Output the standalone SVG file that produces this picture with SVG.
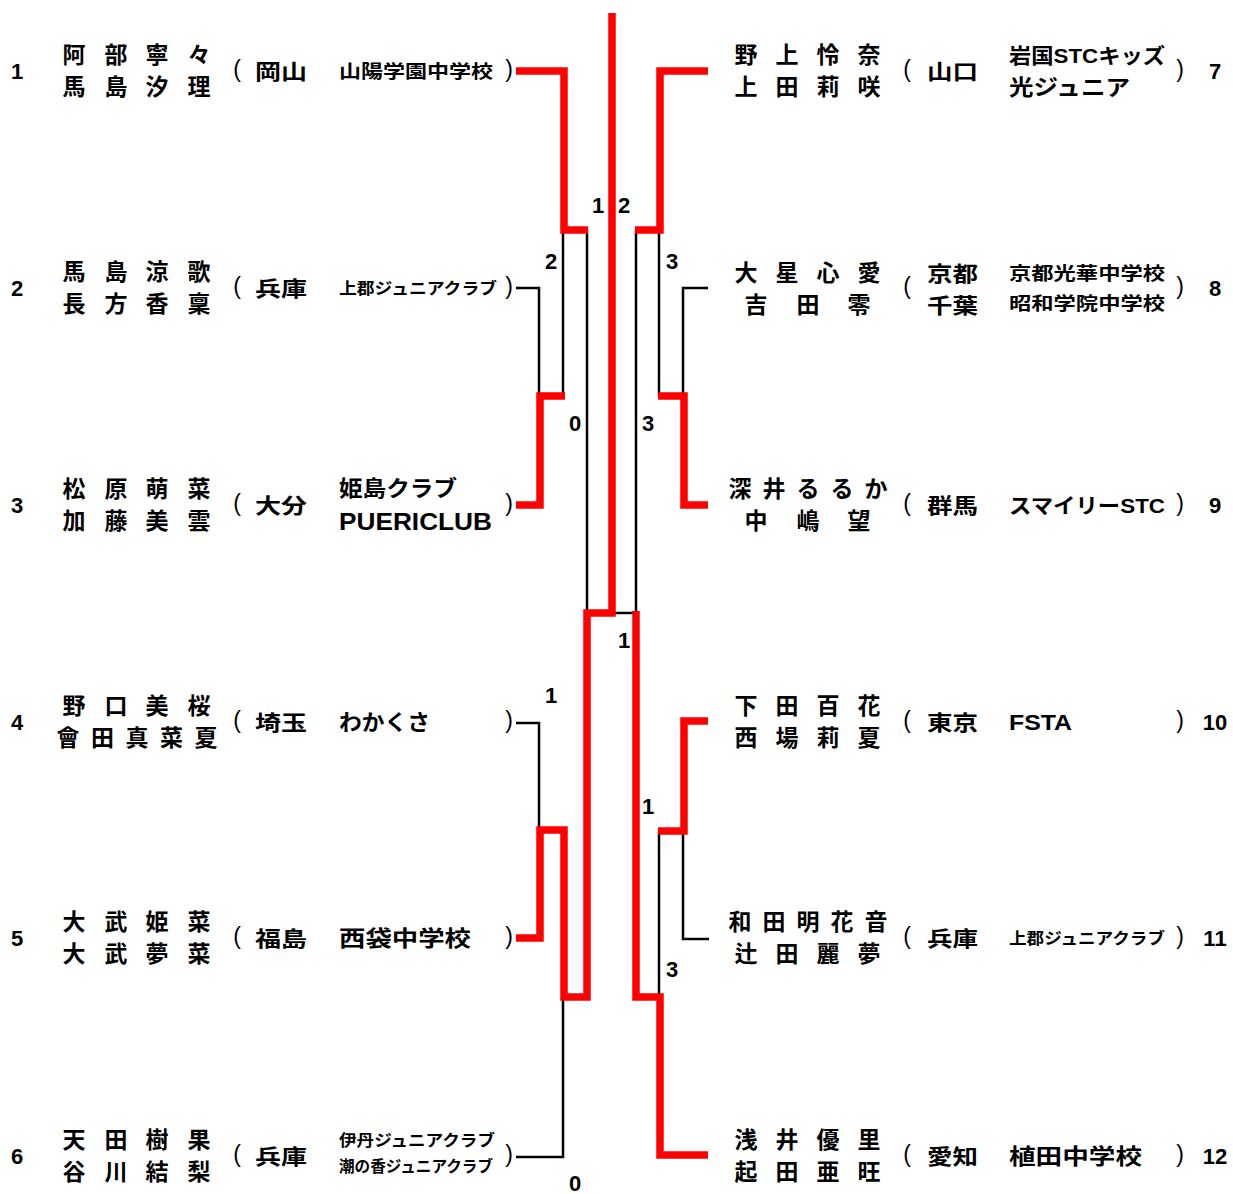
<svg xmlns="http://www.w3.org/2000/svg" width="1233" height="1194" viewBox="0 0 1233 1194">
<style>
text{fill:#000}
.num{font-family:"Liberation Sans",Arial,sans-serif;font-weight:bold;font-size:22px;text-anchor:middle}
.nm{font-family:"Noto Sans CJK JP",sans-serif;font-weight:bold;font-size:23px;text-anchor:middle}
.par{font-family:"Liberation Sans",Arial,sans-serif;font-size:23px;text-anchor:middle}
.pf{font-family:"Noto Sans CJK JP",sans-serif;font-weight:bold;font-size:21px}
.tm{font-family:"Liberation Sans","Noto Sans CJK JP",sans-serif;font-weight:bold}
.r{fill:none;stroke:#ff0000;stroke-width:7.5;stroke-linejoin:miter;stroke-linecap:butt}
.k{fill:none;stroke:#000;stroke-width:2.5;stroke-linejoin:miter}
</style>
<rect width="1233" height="1194" fill="#fff"/>

<g id="connectors">
<path class="k" d="M516,288 H539 V396"/>
<path class="k" d="M563,230 V396"/>
<path class="k" d="M587,230 V613"/>
<path class="k" d="M636,230 V613"/>
<path class="k" d="M659,230 V396"/>
<path class="k" d="M708,288 H683 V396"/>
<path class="k" d="M612,613 H636"/>
<path class="k" d="M516,723 H539 V830"/>
<path class="k" d="M516,1157 H563 V997"/>
<path class="k" d="M659,831 V997"/>
<path class="k" d="M709,939 H683 V831"/>
<path class="r" d="M516,71 H564 V230 H588"/>
<path class="r" d="M516,505 H540 V396 H565"/>
<path class="r" d="M612,13 V613 H587 V997 H564 V830 H540 V938 H516"/>
<path class="r" d="M708,71 H660 V230 H635"/>
<path class="r" d="M708,505 H684 V396 H658"/>
<path class="r" d="M708,721 H684 V831 H658"/>
<path class="r" d="M708,1155 H660 V997 H636 V611"/>
</g>

<g id="scores" class="num">
<text x="598" y="213">1</text>
<text x="624" y="213">2</text>
<text x="551" y="269">2</text>
<text x="672" y="269">3</text>
<text x="575" y="431">0</text>
<text x="648" y="431">3</text>
<text x="624" y="648">1</text>
<text x="551" y="703">1</text>
<text x="648" y="814">1</text>
<text x="672" y="977">3</text>
<text x="575" y="1191">0</text>
</g>

<g id="entry-1">
<text class="num" x="17" y="79">1</text>
<text class="nm" x="74 116 157 199" y="63">阿部寧々</text>
<text class="nm" x="74 116 157 199" y="95">馬島汐理</text>
<text class="par" x="237" y="77">(</text>
<text class="pf" x="255" y="79" textLength="52" lengthAdjust="spacingAndGlyphs">岡山</text>
<text class="tm" x="339" y="78" font-size="18" textLength="154" lengthAdjust="spacingAndGlyphs">山陽学園中学校</text>
<text class="par" x="509" y="77">)</text>
</g>

<g id="entry-2">
<text class="num" x="17" y="296">2</text>
<text class="nm" x="74 116 157 199" y="280">馬島涼歌</text>
<text class="nm" x="74 116 157 199" y="312">長方香稟</text>
<text class="par" x="237" y="294">(</text>
<text class="pf" x="255" y="296" textLength="52" lengthAdjust="spacingAndGlyphs">兵庫</text>
<text class="tm" x="339" y="294" font-size="16" textLength="158" lengthAdjust="spacingAndGlyphs">上郡ジュニアクラブ</text>
<text class="par" x="509" y="294">)</text>
</g>

<g id="entry-3">
<text class="num" x="17" y="513">3</text>
<text class="nm" x="74 116 157 199" y="497">松原萌菜</text>
<text class="nm" x="74 116 157 199" y="529">加藤美雲</text>
<text class="par" x="237" y="511">(</text>
<text class="pf" x="255" y="513" textLength="52" lengthAdjust="spacingAndGlyphs">大分</text>
<text class="tm" x="339" y="496" font-size="22" textLength="118" lengthAdjust="spacingAndGlyphs">姫島クラブ</text>
<text class="tm" x="339" y="530" font-size="24" textLength="153" lengthAdjust="spacingAndGlyphs">PUERICLUB</text>
<text class="par" x="509" y="511">)</text>
</g>

<g id="entry-4">
<text class="num" x="17" y="730">4</text>
<text class="nm" x="74 116 157 199" y="714">野口美桜</text>
<text class="nm" x="68 102.5 137 171.5 206" y="746">會田真菜夏</text>
<text class="par" x="237" y="728">(</text>
<text class="pf" x="255" y="730" textLength="52" lengthAdjust="spacingAndGlyphs">埼玉</text>
<text class="tm" x="339" y="730" font-size="22" textLength="91" lengthAdjust="spacingAndGlyphs">わかくさ</text>
<text class="par" x="509" y="728">)</text>
</g>

<g id="entry-5">
<text class="num" x="17" y="946">5</text>
<text class="nm" x="74 116 157 199" y="930">大武姫菜</text>
<text class="nm" x="74 116 157 199" y="962">大武夢菜</text>
<text class="par" x="237" y="944">(</text>
<text class="pf" x="255" y="946" textLength="52" lengthAdjust="spacingAndGlyphs">福島</text>
<text class="tm" x="339" y="946" font-size="22" textLength="132" lengthAdjust="spacingAndGlyphs">西袋中学校</text>
<text class="par" x="509" y="944">)</text>
</g>

<g id="entry-6">
<text class="num" x="17" y="1164">6</text>
<text class="nm" x="74 116 157 199" y="1148">天田樹果</text>
<text class="nm" x="74 116 157 199" y="1180">谷川結梨</text>
<text class="par" x="237" y="1162">(</text>
<text class="pf" x="255" y="1164" textLength="52" lengthAdjust="spacingAndGlyphs">兵庫</text>
<text class="tm" x="339" y="1146" font-size="16" textLength="156" lengthAdjust="spacingAndGlyphs">伊丹ジュニアクラブ</text>
<text class="tm" x="339" y="1172" font-size="16" textLength="154" lengthAdjust="spacingAndGlyphs">潮の香ジュニアクラブ</text>
<text class="par" x="509" y="1162">)</text>
</g>

<g id="entry-7">
<text class="nm" x="746 787 828 869" y="63">野上怜奈</text>
<text class="nm" x="746 787 828 869" y="95">上田莉咲</text>
<text class="par" x="907" y="77">(</text>
<text class="pf" x="927" y="79" textLength="51" lengthAdjust="spacingAndGlyphs">山口</text>
<text class="tm" x="1009" y="63" font-size="21" textLength="156" lengthAdjust="spacingAndGlyphs">岩国STCキッズ</text>
<text class="tm" x="1009" y="95" font-size="22" textLength="121" lengthAdjust="spacingAndGlyphs">光ジュニア</text>
<text class="par" x="1180" y="77">)</text>
<text class="num" x="1215" y="79">7</text>
</g>

<g id="entry-8">
<text class="nm" x="746 787 828 869" y="281">大星心愛</text>
<text class="nm" x="756 808 859" y="313">吉田零</text>
<text class="par" x="907" y="294">(</text>
<text class="pf" x="927" y="281" textLength="51" lengthAdjust="spacingAndGlyphs">京都</text>
<text class="pf" x="927" y="313" textLength="51" lengthAdjust="spacingAndGlyphs">千葉</text>
<text class="tm" x="1009" y="280" font-size="18" textLength="156" lengthAdjust="spacingAndGlyphs">京都光華中学校</text>
<text class="tm" x="1009" y="310" font-size="18" textLength="156" lengthAdjust="spacingAndGlyphs">昭和学院中学校</text>
<text class="par" x="1180" y="294">)</text>
<text class="num" x="1215" y="296">8</text>
</g>

<g id="entry-9">
<text class="nm" x="740 774 808 842 876" y="497">深井るるか</text>
<text class="nm" x="756 808 859" y="529">中嶋望</text>
<text class="par" x="907" y="511">(</text>
<text class="pf" x="927" y="513" textLength="51" lengthAdjust="spacingAndGlyphs">群馬</text>
<text class="tm" x="1009" y="513" font-size="21" textLength="156" lengthAdjust="spacingAndGlyphs">スマイリーSTC</text>
<text class="par" x="1180" y="511">)</text>
<text class="num" x="1215" y="513">9</text>
</g>

<g id="entry-10">
<text class="nm" x="746 787 828 869" y="714">下田百花</text>
<text class="nm" x="746 787 828 869" y="746">西場莉夏</text>
<text class="par" x="907" y="728">(</text>
<text class="pf" x="927" y="730" textLength="51" lengthAdjust="spacingAndGlyphs">東京</text>
<text class="tm" x="1009" y="730" font-size="22" textLength="63" lengthAdjust="spacingAndGlyphs">FSTA</text>
<text class="par" x="1180" y="728">)</text>
<text class="num" x="1215" y="730">10</text>
</g>

<g id="entry-11">
<text class="nm" x="740 774 808 842 876" y="930">和田明花音</text>
<text class="nm" x="746 787 828 869" y="962">辻田麗夢</text>
<text class="par" x="907" y="944">(</text>
<text class="pf" x="927" y="946" textLength="51" lengthAdjust="spacingAndGlyphs">兵庫</text>
<text class="tm" x="1009" y="944" font-size="16" textLength="156" lengthAdjust="spacingAndGlyphs">上郡ジュニアクラブ</text>
<text class="par" x="1180" y="944">)</text>
<text class="num" x="1215" y="946">11</text>
</g>

<g id="entry-12">
<text class="nm" x="746 787 828 869" y="1148">浅井優里</text>
<text class="nm" x="746 787 828 869" y="1180">起田亜旺</text>
<text class="par" x="907" y="1162">(</text>
<text class="pf" x="927" y="1164" textLength="51" lengthAdjust="spacingAndGlyphs">愛知</text>
<text class="tm" x="1009" y="1164" font-size="22" textLength="133" lengthAdjust="spacingAndGlyphs">植田中学校</text>
<text class="par" x="1180" y="1162">)</text>
<text class="num" x="1215" y="1164">12</text>
</g>
</svg>
